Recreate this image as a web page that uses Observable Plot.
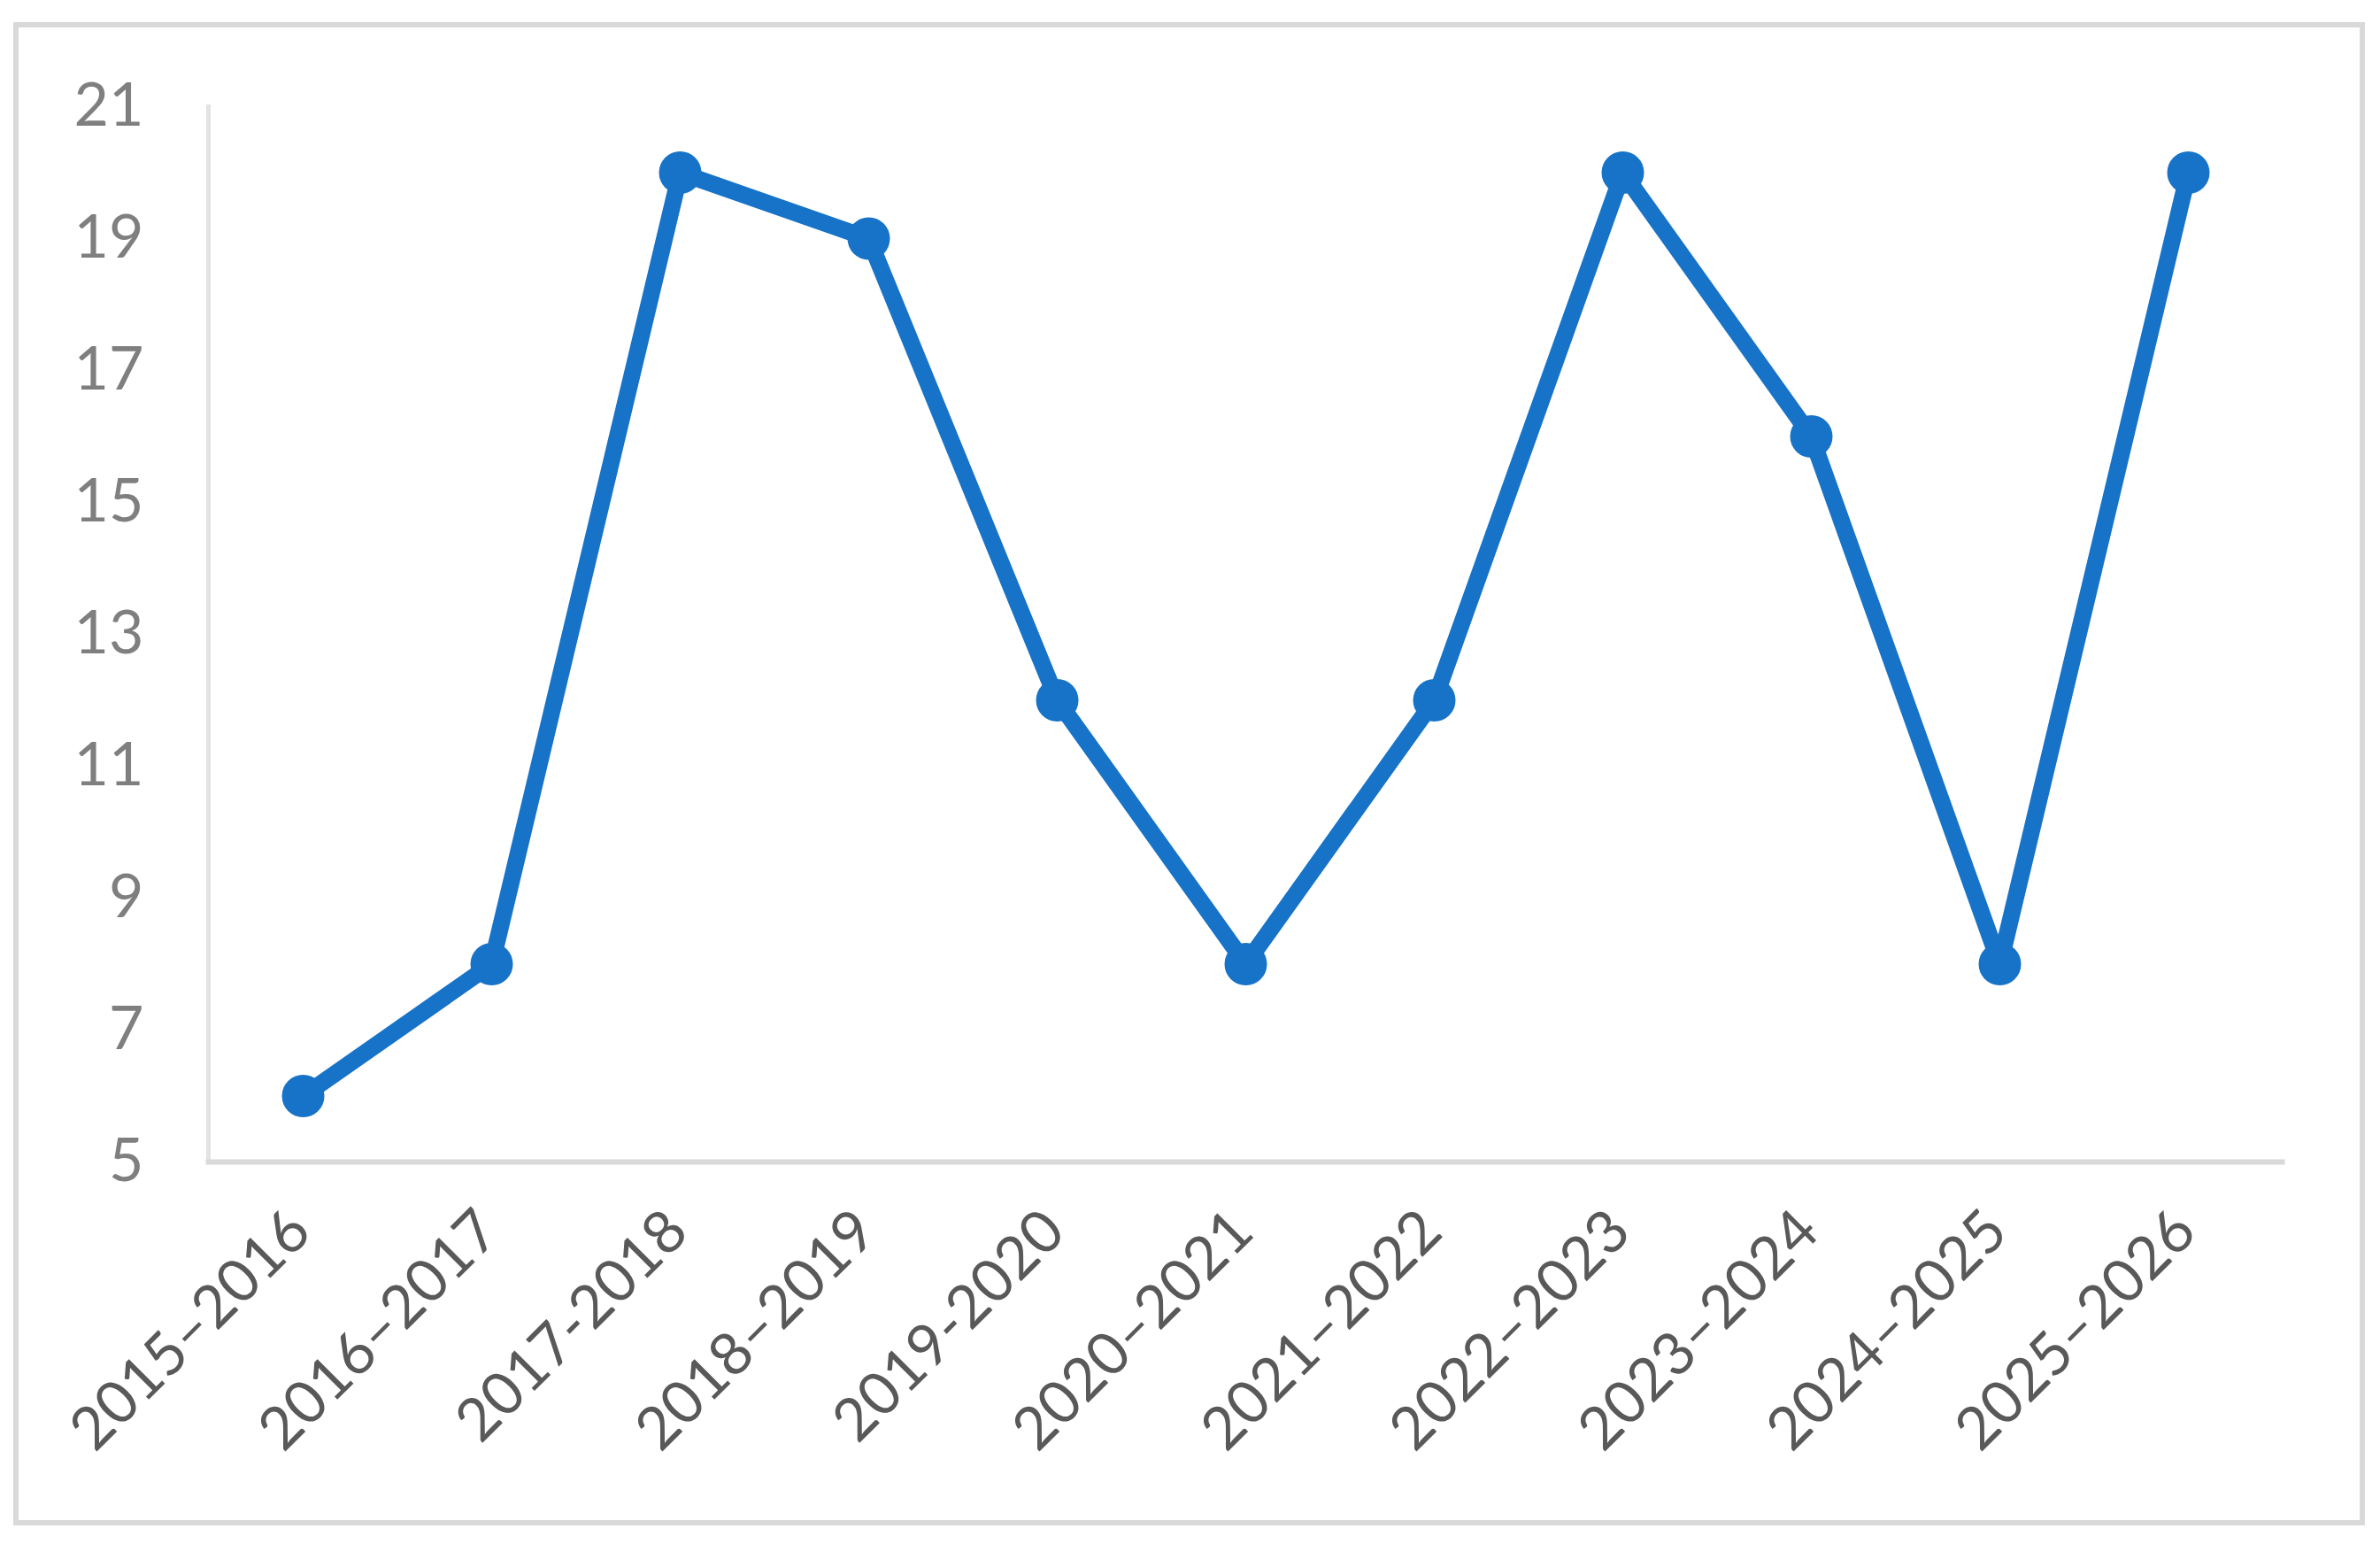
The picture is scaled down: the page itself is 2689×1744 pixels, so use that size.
<!DOCTYPE html>
<html>
<head>
<meta charset="utf-8">
<script src="https://cdn.jsdelivr.net/npm/d3@7"></script>
<script src="https://cdn.jsdelivr.net/npm/@observablehq/plot@0.6"></script>
<style>
  html, body { margin: 0; padding: 0; background: #ffffff; }
  #wrap { position: relative; width: 2689px; height: 1744px; }
  #border { position: absolute; left: 15px; top: 25px; width: 2657px; height: 1698px;
            box-sizing: border-box; border: 6px solid #d9d9d9; pointer-events: none; }
  #chart { position: absolute; left: 0; top: 0; }
</style>
</head>
<body>
<div id="wrap"><div id="chart"></div><div id="border"></div></div>
<script>
const seasons = ["2015–2016", "2016–2017", "2017-2018", "2018–2019", "2019-2020", "2020–2021",
                 "2021–2022", "2022–2023", "2023–2024", "2024–2025", "2025–2026"];
const values = [6, 8, 20, 19, 12, 8, 12, 20, 16, 8, 20];
const yTicks = [5, 7, 9, 11, 13, 15, 17, 19, 21];

const data = seasons.map((s, i) => ({season: s, value: values[i]}));
const blue = "#1773c8";
const font = "Lato, 'Open Sans', sans-serif";

const chart = Plot.plot({
  width: 2689,
  height: 1744,
  marginLeft: 235,
  marginRight: 111,
  marginTop: 120,
  marginBottom: 432,
  style: {fontFamily: font, background: "transparent"},
  x: {type: "point", domain: seasons, padding: 0.5, axis: null},
  y: {domain: [5, 21], axis: null},
  marks: [
    Plot.frame({anchor: "left", stroke: "#e3e3e3", strokeWidth: 5, strokeOpacity: 1}),
    Plot.frame({anchor: "bottom", stroke: "#d9d9d9", strokeWidth: 6, strokeOpacity: 1}),
    Plot.axisY(yTicks, {tickSize: 0, tickPadding: 73, fontSize: 68, fill: "#7f7f7f",
                        label: null, tickFormat: d => String(d)}),
    Plot.text(data, {
      x: "season", text: "season", frameAnchor: "bottom",
      rotate: -45, textAnchor: "end", dx: 12, dy: 82,
      fontSize: 67, fill: "#595959"
    }),
    Plot.line(data, {x: "season", y: "value", stroke: blue, strokeWidth: 19,
                     strokeLinejoin: "round", strokeLinecap: "round"}),
    Plot.dot(data, {x: "season", y: "value", r: 24, fill: blue, stroke: "none"})
  ]
});
document.getElementById("chart").appendChild(chart);
</script>
</body>
</html>
